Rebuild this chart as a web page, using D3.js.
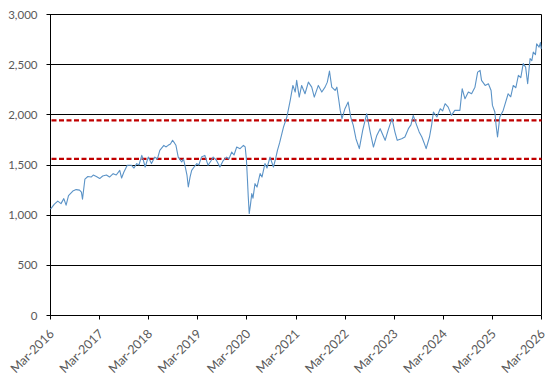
<!DOCTYPE html>
<html><head><meta charset="utf-8">
<script src="https://cdn.jsdelivr.net/npm/d3@7"></script>
<style>body{margin:0;background:#fff}svg{display:block}</style>
</head><body>
<svg id="c" width="548" height="382"></svg>
<script>
const dates=["2016-03-01","2016-03-30","2016-04-24","2016-05-18","2016-06-08","2016-06-25","2016-07-13","2016-08-14","2016-09-08","2016-10-03","2016-10-17","2016-10-25","2016-11-12","2016-12-04","2016-12-28","2017-01-13","2017-02-05","2017-03-02","2017-03-24","2017-04-21","2017-05-14","2017-06-10","2017-07-03","2017-07-29","2017-08-12","2017-08-29","2017-09-23","2017-10-25","2017-11-12","2017-12-02","2017-12-19","2018-01-09","2018-01-18","2018-02-03","2018-02-26","2018-03-22","2018-04-16","2018-05-05","2018-05-23","2018-06-22","2018-07-07","2018-07-24","2018-08-10","2018-08-26","2018-09-09","2018-09-20","2018-10-07","2018-11-02","2018-11-15","2018-11-26","2018-12-11","2018-12-21","2019-01-03","2019-01-15","2019-02-02","2019-02-22","2019-03-09","2019-03-29","2019-04-23","2019-05-17","2019-06-07","2019-06-24","2019-07-17","2019-08-13","2019-09-05","2019-10-02","2019-10-19","2019-11-09","2019-11-26","2019-12-16","2020-01-10","2020-02-04","2020-02-17","2020-02-26","2020-03-05","2020-03-11","2020-03-18","2020-03-27","2020-04-06","2020-04-15","2020-04-30","2020-05-15","2020-06-07","2020-06-21","2020-07-13","2020-07-28","2020-08-20","2020-09-14","2020-09-30","2020-10-14","2020-10-30","2020-11-16","2020-11-28","2020-12-23","2021-01-17","2021-02-06","2021-02-23","2021-03-06","2021-03-25","2021-04-12","2021-05-07","2021-06-01","2021-06-26","2021-07-15","2021-08-14","2021-09-09","2021-10-03","2021-10-20","2021-11-05","2021-11-22","2021-12-17","2021-12-30","2022-01-13","2022-01-24","2022-02-06","2022-02-28","2022-03-24","2022-04-12","2022-05-01","2022-05-21","2022-06-15","2022-07-10","2022-08-09","2022-09-04","2022-09-28","2022-10-23","2022-11-17","2022-12-24","2023-01-16","2023-02-13","2023-03-07","2023-03-24","2023-04-26","2023-05-20","2023-06-15","2023-07-04","2023-07-21","2023-08-16","2023-09-03","2023-09-23","2023-10-10","2023-10-25","2023-11-19","2023-12-05","2023-12-18","2024-01-13","2024-02-07","2024-02-25","2024-03-14","2024-04-06","2024-04-30","2024-05-25","2024-07-02","2024-07-19","2024-08-09","2024-09-03","2024-09-27","2024-10-22","2024-11-11","2024-11-29","2024-12-10","2025-01-06","2025-01-30","2025-02-19","2025-03-01","2025-03-19","2025-03-28","2025-04-08","2025-04-25","2025-05-20","2025-06-26","2025-07-15","2025-08-03","2025-08-22","2025-09-10","2025-09-28","2025-10-16","2025-11-03","2025-11-18","2025-12-06","2025-12-19","2025-12-30","2026-01-15","2026-01-24","2026-02-11","2026-02-21","2026-02-27"];
const values=[1060,1110,1140,1115,1165,1100,1195,1240,1255,1250,1230,1160,1360,1385,1380,1400,1385,1365,1390,1400,1380,1414,1400,1447,1370,1430,1497,1497,1470,1514,1500,1596,1560,1480,1579,1514,1579,1560,1646,1696,1680,1696,1710,1746,1720,1696,1579,1530,1560,1497,1400,1281,1380,1447,1480,1514,1500,1579,1596,1497,1540,1579,1550,1480,1540,1579,1560,1629,1600,1679,1663,1696,1680,1560,1350,1181,1016,1100,1215,1170,1314,1280,1414,1380,1514,1470,1579,1480,1560,1646,1720,1812,1878,1978,2144,2293,2227,2343,2177,2293,2210,2326,2276,2177,2293,2227,2276,2326,2436,2276,2243,2276,2150,2044,1962,2061,2127,1978,1895,1762,1663,1845,2011,1828,1679,1795,1862,1746,1850,1962,1828,1746,1762,1779,1862,1900,1995,1895,1830,1779,1720,1663,1779,1900,2028,1978,2061,2040,2111,2077,1995,2044,2044,2260,2160,2227,2210,2276,2426,2443,2343,2293,2310,2243,2094,2028,1900,1779,1978,2044,2210,2180,2293,2270,2393,2370,2510,2476,2310,2560,2540,2625,2600,2708,2675,2720,2658];
const yTicks=[0,500,1000,1500,2000,2500,3000];
const xTickLabels=["Mar-2016","Mar-2017","Mar-2018","Mar-2019","Mar-2020","Mar-2021","Mar-2022","Mar-2023","Mar-2024","Mar-2025","Mar-2026"];
const refLines=[1945,1560];

const svg=d3.select("#c");
const parseD=d3.timeParse("%Y-%m-%d");
const parseT=d3.timeParse("%b-%Y");
const tickDates=xTickLabels.map(parseT);
const L=50.5,R=541.5,B=315.5,T=14.5;
const x=d3.scaleTime().domain([tickDates[0],tickDates[tickDates.length-1]]).range([L,R]);
const y=d3.scaleLinear().domain([0,3000]).range([B,T]);
const fmt=d3.format(",");
const font="Lato, 'Open Sans', sans-serif";

// gridlines
svg.append("g").selectAll("line").data(yTicks).join("line")
  .attr("x1",L-4).attr("x2",R)
  .attr("y1",d=>Math.round(y(d)-0.5)+0.5).attr("y2",d=>Math.round(y(d)-0.5)+0.5)
  .attr("stroke","#000").attr("stroke-width",1);
// y labels
svg.append("g").selectAll("text").data(yTicks).join("text")
  .attr("x",L-13).attr("y",d=>y(d)).attr("dy","0.35em")
  .attr("text-anchor","end").attr("font-family",font).attr("font-size",11.5)
  .attr("fill","#595959").text(d=>fmt(d));
// axes lines
svg.append("line").attr("x1",L).attr("x2",L).attr("y1",T).attr("y2",B).attr("stroke","#000");
svg.append("line").attr("x1",R).attr("x2",R).attr("y1",T).attr("y2",B).attr("stroke","#000");
// x ticks
svg.append("g").selectAll("line").data(tickDates).join("line")
  .attr("x1",d=>Math.round(x(d)-0.5)+0.5).attr("x2",d=>Math.round(x(d)-0.5)+0.5)
  .attr("y1",B).attr("y2",B+4).attr("stroke","#000");
svg.append("g").selectAll("text").data(tickDates).join("text")
  .attr("transform",d=>`translate(${x(d)+4.5},${B+19}) rotate(-45)`)
  .attr("text-anchor","end").attr("font-family",font).attr("font-size",12.5)
  .attr("fill","#595959").text((d,i)=>xTickLabels[i]);
// ref lines
svg.append("g").selectAll("line").data(refLines).join("line")
  .attr("x1",L+1).attr("x2",R).attr("y1",d=>y(d)).attr("y2",d=>y(d))
  .attr("stroke","#c00000").attr("stroke-width",2.25).attr("stroke-dasharray","5,2.5");
// series
const pts=dates.map((d,i)=>({d:parseD(d),v:values[i]}));
svg.append("path").datum(pts)
  .attr("d",d3.line().x(p=>x(p.d)).y(p=>y(p.v)))
  .attr("fill","none").attr("stroke","#5b93c7").attr("stroke-width",1.1).attr("stroke-linejoin","round");
</script>
</body></html>
